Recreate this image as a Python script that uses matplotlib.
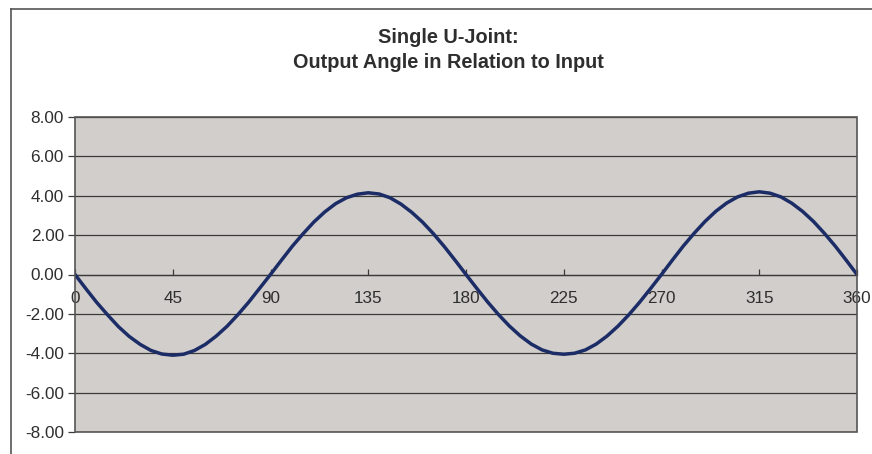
import numpy as np
import matplotlib.pyplot as plt
from matplotlib.lines import Line2D
from matplotlib.patches import Rectangle

plt.rcParams['font.family'] = ['Liberation Sans', 'DejaVu Sans']

TITLE = "Single U-Joint:\nOutput Angle in Relation to Input"

# input angle (deg), every 5 degrees
input_angle = list(range(0, 365, 5))

# output angle difference (deg)
output_angle = [
    0.00, -0.72, -1.42, -2.05, -2.65, -3.15, -3.55, -3.86, -4.04, -4.10,
    -4.05, -3.86, -3.55, -3.13, -2.63, -2.04, -1.40, -0.70, 0.00,
    0.72, 1.43, 2.07, 2.67, 3.18, 3.60, 3.90, 4.08, 4.15,
    4.09, 3.90, 3.58, 3.16, 2.66, 2.07, 1.42, 0.72, 0.00,
    -0.71, -1.40, -2.04, -2.62, -3.12, -3.53, -3.83, -4.00, -4.05,
    -4.00, -3.83, -3.53, -3.12, -2.62, -2.04, -1.40, -0.71, 0.00,
    0.73, 1.44, 2.09, 2.69, 3.21, 3.63, 3.94, 4.13, 4.20,
    4.13, 3.94, 3.62, 3.20, 2.69, 2.09, 1.44, 0.73, 0.00,
]

x_ticks = [0, 45, 90, 135, 180, 225, 270, 315, 360]
y_ticks = [-8, -6, -4, -2, 0, 2, 4, 6, 8]

TXT = '#2e2e2e'

fig = plt.figure(figsize=(8.72, 4.54), dpi=100)
ax = fig.add_axes([75/872, 22/454, 782/872, 315/454])
ax.set_facecolor('#d1cecb')

ax.plot(input_angle, output_angle, color='#1c2c66', linewidth=2.5, solid_capstyle='round', zorder=3)

ax.set_xlim(0, 360)
ax.set_ylim(-8, 8)
ax.set_yticks(y_ticks)
ax.set_yticklabels(["%.2f" % v for v in y_ticks])
ax.set_xticks(x_ticks)
ax.set_xticklabels([str(v) for v in x_ticks])

for y in y_ticks:
    ax.axhline(y, color='#3a3a3a', linewidth=0.9, zorder=1)

for s in ['top', 'right', 'left']:
    ax.spines[s].set_visible(False)
ax.spines['bottom'].set_position(('data', 0))
ax.spines['bottom'].set_color('#3a3a3a')
ax.spines['bottom'].set_linewidth(0.9)

# plot area border
ax.add_patch(Rectangle((0, 0), 1, 1, transform=ax.transAxes, fill=False,
                       edgecolor='#555555', linewidth=1.2, clip_on=False, zorder=4))

ax.tick_params(axis='y', direction='out', length=5, width=0.9, color='#3a3a3a',
               labelsize=12.3, labelcolor=TXT, pad=3)
ax.tick_params(axis='x', direction='in', length=4, width=0.9, color='#3a3a3a',
               labelsize=12.3, labelcolor=TXT, pad=12)

fig.text(0.514, 0.890, TITLE, ha='center', va='center', fontsize=14.3,
         fontweight='bold', color=TXT, linespacing=1.35)

# outer chart frame
fig.add_artist(Line2D([11/872, 11/872], [0, 445/454], color='#555555', linewidth=1.2))
fig.add_artist(Line2D([11/872, 1], [445/454, 445/454], color='#555555', linewidth=1.2))

fig.savefig('out.png', dpi=100, facecolor='white')
